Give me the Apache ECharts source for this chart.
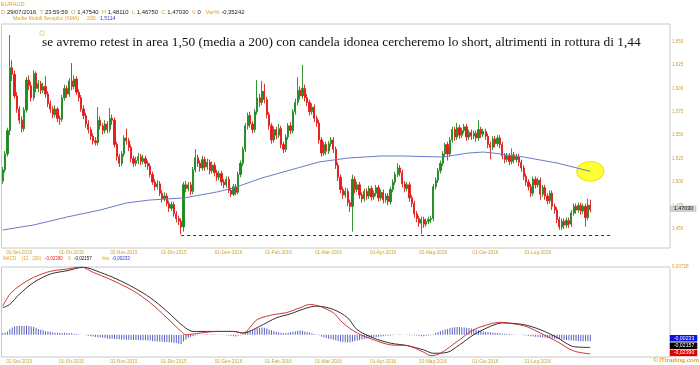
<!DOCTYPE html>
<html><head><meta charset="utf-8">
<script src="https://cdn.jsdelivr.net/npm/echarts@6/dist/echarts.min.js"></script>
<style>html,body{margin:0;padding:0;background:#fff}#c{width:700px;height:365px}</style>
</head><body><div id="c"></div>
<script>
// ---- data (EURAUD daily, 19-Aug-2015 .. 29-Jul-2016) ----
const padBars = 33;
const opens = [
1.501,1.513,1.530,1.555,1.622,1.615,1.592,1.578,1.566,1.557,
1.577,1.609,1.603,1.590,1.616,1.600,1.605,1.598,1.602,1.594,
1.584,1.578,1.572,1.578,1.568,1.567,1.590,1.600,1.594,1.608,
1.602,1.610,1.596,1.590,1.578,1.571,1.562,1.556,1.549,1.544,
1.542,1.566,1.560,1.555,1.562,1.556,1.568,1.566,1.540,1.527,
1.520,1.530,1.547,1.544,1.537,1.525,1.520,1.523,1.527,1.522,
1.525,1.520,1.517,1.508,1.500,1.495,1.498,1.488,1.482,1.485,
1.477,1.472,1.476,1.466,1.461,1.458,1.452,1.497,1.493,1.497,
1.490,1.513,1.526,1.520,1.515,1.524,1.516,1.521,1.512,1.518,
1.510,1.505,1.509,1.500,1.497,1.503,1.491,1.487,1.495,1.489,
1.508,1.520,1.535,1.560,1.571,1.562,1.556,1.575,1.590,1.585,
1.597,1.588,1.572,1.560,1.545,1.556,1.550,1.557,1.540,1.535,
1.548,1.560,1.555,1.575,1.585,1.598,1.592,1.600,1.590,1.585,
1.575,1.580,1.568,1.563,1.545,1.531,1.540,1.533,1.541,1.545,
1.535,1.518,1.505,1.492,1.486,1.490,1.478,1.474,1.503,1.492,
1.497,1.486,1.482,1.490,1.485,1.493,1.484,1.488,1.494,1.483,
1.489,1.481,1.485,1.479,1.492,1.500,1.508,1.515,1.510,1.498,
1.493,1.497,1.483,1.477,1.466,1.461,1.456,1.460,1.455,1.458,
1.460,1.461,1.495,1.502,1.512,1.520,1.530,1.540,1.530,1.545,
1.556,1.548,1.558,1.550,1.555,1.559,1.548,1.553,1.549,1.552,
1.547,1.556,1.551,1.554,1.549,1.540,1.537,1.546,1.541,1.547,
1.540,1.528,1.524,1.528,1.522,1.529,1.524,1.527,1.521,1.515,
1.506,1.500,1.495,1.488,1.503,1.497,1.502,1.487,1.494,1.485,
1.480,1.488,1.474,1.470,1.460,1.452,1.458,1.454,1.459,1.455,
1.467,1.474,1.470,1.475,1.469,1.474,1.462,1.4754];
const closes = [
1.513,1.530,1.555,1.622,1.615,1.592,1.578,1.566,1.557,1.577,
1.609,1.603,1.590,1.616,1.600,1.605,1.598,1.602,1.594,1.584,
1.578,1.572,1.578,1.568,1.567,1.590,1.600,1.594,1.608,1.602,
1.610,1.596,1.590,1.578,1.571,1.562,1.556,1.549,1.544,1.542,
1.566,1.560,1.555,1.562,1.556,1.568,1.566,1.540,1.527,1.520,
1.530,1.547,1.544,1.537,1.525,1.520,1.523,1.527,1.522,1.525,
1.520,1.517,1.508,1.500,1.495,1.498,1.488,1.482,1.485,1.477,
1.472,1.476,1.466,1.461,1.458,1.452,1.497,1.493,1.497,1.490,
1.513,1.526,1.520,1.515,1.524,1.516,1.521,1.512,1.518,1.510,
1.505,1.509,1.500,1.497,1.503,1.491,1.487,1.495,1.489,1.508,
1.520,1.535,1.560,1.571,1.562,1.556,1.575,1.590,1.585,1.597,
1.588,1.572,1.560,1.545,1.556,1.550,1.557,1.540,1.535,1.548,
1.560,1.555,1.575,1.585,1.598,1.592,1.600,1.590,1.585,1.575,
1.580,1.568,1.563,1.545,1.531,1.540,1.533,1.541,1.545,1.535,
1.518,1.505,1.492,1.486,1.490,1.478,1.474,1.503,1.492,1.497,
1.486,1.482,1.490,1.485,1.493,1.484,1.488,1.494,1.483,1.489,
1.481,1.485,1.479,1.492,1.500,1.508,1.515,1.510,1.498,1.493,
1.497,1.483,1.477,1.466,1.461,1.456,1.460,1.455,1.458,1.460,
1.461,1.495,1.502,1.512,1.520,1.530,1.540,1.530,1.545,1.556,
1.548,1.558,1.550,1.555,1.559,1.548,1.553,1.549,1.552,1.547,
1.556,1.551,1.554,1.549,1.540,1.537,1.546,1.541,1.547,1.540,
1.528,1.524,1.528,1.522,1.529,1.524,1.527,1.521,1.515,1.506,
1.500,1.495,1.488,1.503,1.497,1.502,1.487,1.494,1.485,1.480,
1.488,1.474,1.470,1.460,1.452,1.458,1.454,1.459,1.455,1.467,
1.474,1.470,1.475,1.469,1.474,1.462,1.4754,1.4703];
const lows = [
1.498,1.510,1.527,1.550,1.608,1.589,1.574,1.562,1.553,1.554,
1.574,1.598,1.586,1.587,1.596,1.596,1.594,1.595,1.590,1.580,
1.574,1.568,1.569,1.564,1.561,1.564,1.587,1.590,1.591,1.598,
1.599,1.593,1.586,1.575,1.567,1.558,1.552,1.545,1.540,1.539,
1.539,1.556,1.551,1.552,1.552,1.553,1.561,1.537,1.523,1.516,
1.517,1.527,1.540,1.533,1.521,1.516,1.517,1.519,1.518,1.519,
1.516,1.513,1.505,1.497,1.491,1.492,1.485,1.478,1.479,1.474,
1.468,1.469,1.463,1.457,1.454,1.444,1.447,1.489,1.490,1.486,
1.487,1.510,1.516,1.511,1.512,1.512,1.513,1.508,1.509,1.506,
1.501,1.502,1.496,1.493,1.494,1.488,1.484,1.485,1.486,1.487,
1.505,1.517,1.532,1.556,1.558,1.552,1.553,1.572,1.580,1.582,
1.584,1.568,1.556,1.541,1.542,1.546,1.547,1.536,1.531,1.532,
1.545,1.551,1.552,1.572,1.582,1.588,1.589,1.586,1.581,1.571,
1.572,1.564,1.559,1.541,1.527,1.528,1.529,1.530,1.538,1.531,
1.514,1.501,1.488,1.482,1.483,1.474,1.468,1.447,1.488,1.489,
1.482,1.478,1.479,1.481,1.482,1.480,1.481,1.485,1.479,1.480,
1.477,1.478,1.475,1.476,1.489,1.497,1.505,1.506,1.494,1.489,
1.490,1.479,1.473,1.462,1.457,1.452,1.4445,1.451,1.452,1.455,
1.456,1.458,1.492,1.499,1.509,1.517,1.527,1.523,1.527,1.542,
1.544,1.545,1.546,1.547,1.552,1.544,1.545,1.545,1.546,1.543,
1.544,1.547,1.548,1.545,1.536,1.524,1.534,1.537,1.538,1.536,
1.524,1.520,1.521,1.518,1.519,1.520,1.521,1.517,1.511,1.502,
1.496,1.491,1.484,1.485,1.493,1.494,1.481,1.484,1.481,1.476,
1.477,1.470,1.466,1.456,1.449,1.449,1.450,1.451,1.451,1.452,
1.464,1.466,1.467,1.465,1.466,1.4524,1.459,1.4675];
const highs = [
1.516,1.533,1.558,1.657,1.630,1.619,1.596,1.581,1.570,1.580,
1.612,1.614,1.607,1.619,1.618,1.609,1.608,1.606,1.613,1.597,
1.587,1.581,1.582,1.580,1.571,1.593,1.604,1.603,1.611,1.627,
1.614,1.613,1.599,1.593,1.582,1.574,1.566,1.559,1.552,1.548,
1.580,1.570,1.563,1.566,1.565,1.579,1.572,1.569,1.543,1.530,
1.533,1.550,1.557,1.547,1.540,1.528,1.527,1.531,1.530,1.529,
1.528,1.523,1.520,1.511,1.503,1.502,1.501,1.491,1.489,1.488,
1.480,1.479,1.479,1.469,1.464,1.461,1.500,1.501,1.500,1.500,
1.516,1.535,1.529,1.523,1.528,1.527,1.525,1.524,1.522,1.521,
1.513,1.512,1.512,1.503,1.506,1.506,1.494,1.498,1.498,1.511,
1.523,1.538,1.563,1.574,1.575,1.565,1.578,1.609,1.594,1.608,
1.605,1.591,1.575,1.563,1.559,1.559,1.562,1.560,1.543,1.551,
1.563,1.564,1.578,1.589,1.612,1.602,1.625,1.604,1.594,1.588,
1.584,1.583,1.571,1.566,1.548,1.543,1.543,1.544,1.548,1.548,
1.538,1.521,1.508,1.495,1.494,1.493,1.481,1.508,1.506,1.500,
1.500,1.489,1.493,1.493,1.496,1.496,1.491,1.497,1.497,1.492,
1.492,1.488,1.488,1.495,1.503,1.511,1.520,1.518,1.513,1.501,
1.500,1.500,1.486,1.480,1.469,1.464,1.463,1.463,1.461,1.463,
1.464,1.498,1.505,1.515,1.523,1.533,1.542,1.543,1.548,1.559,
1.559,1.563,1.561,1.558,1.562,1.562,1.556,1.556,1.555,1.555,
1.566,1.559,1.557,1.557,1.552,1.543,1.549,1.549,1.550,1.550,
1.543,1.531,1.531,1.531,1.536,1.532,1.530,1.530,1.524,1.518,
1.509,1.503,1.498,1.506,1.506,1.505,1.505,1.497,1.497,1.488,
1.491,1.491,1.477,1.473,1.463,1.461,1.461,1.462,1.462,1.470,
1.477,1.477,1.478,1.478,1.477,1.477,1.482,1.4811];
// SMA 200 read at sample bars
const maIdx = [0,13,27,41,52,62,76,90,97,109,124,133,145,159,168,185,196,202,206,219,233,247];
const maVal = [1.4487,1.4541,1.4626,1.4701,1.4776,1.4808,1.4829,1.4893,1.4936,1.5043,1.5150,1.5214,1.5256,1.5278,1.5278,1.5267,1.5310,1.5320,1.5310,1.5267,1.5203,1.5114];
// MACD (12,200) line, signal 9 - read at sample bars
const macdIdx = [0,3,7,13,20,27,33,38,45,55,62,69,75,77,83,90,97,101,107,114,119,125,129,133,139,143,149,156,163,170,177,180,184,191,198,205,209,215,220,226,233,240,247];
const macdVal = [-0.00676,-0.00251,0.00050,0.00354,0.00572,0.00655,0.00728,0.00536,0.00293,-0.00132,-0.00552,-0.01096,-0.01583,-0.01702,-0.01641,-0.01583,-0.01583,-0.01641,-0.01158,-0.00977,-0.00915,-0.00734,-0.00614,-0.00676,-0.00915,-0.01278,-0.01641,-0.01884,-0.02065,-0.02090,-0.02330,-0.02453,-0.02366,-0.01945,-0.01521,-0.01314,-0.01256,-0.01314,-0.01401,-0.01641,-0.01945,-0.02283,-0.02390];
const sigIdx = [0,3,7,13,20,27,34,41,48,55,62,69,76,80,86,97,101,108,115,121,128,132,139,145,149,156,163,170,177,181,187,192,198,205,210,219,226,233,240,247];
const sigVal = [-0.00734,-0.00614,-0.00251,0.00173,0.00474,0.00594,0.00717,0.00536,0.00293,-0.00008,-0.00371,-0.00857,-0.01401,-0.01583,-0.01583,-0.01583,-0.01641,-0.01401,-0.01096,-0.00951,-0.00734,-0.00676,-0.00795,-0.01096,-0.01521,-0.01822,-0.02003,-0.02090,-0.02246,-0.02366,-0.02330,-0.02065,-0.01702,-0.01401,-0.01278,-0.01339,-0.01521,-0.01800,-0.02127,-0.02157];
const hist = [
0.0006,0.0008,0.0012,0.0020,0.0026,0.0030,0.0031,0.0032,0.0031,0.0031,
0.0032,0.0031,0.0030,0.0028,0.0024,0.0021,0.0018,0.0016,0.0013,0.0012,
0.0011,0.0008,0.0007,0.0007,0.0006,0.0006,0.0007,0.0006,0.0005,0.0005,
0.0004,0.0003,0.0002,0.0001,0.0000,-0.0002,-0.0004,-0.0005,-0.0006,-0.0008,
-0.0009,-0.0010,-0.0011,-0.0012,-0.0013,-0.0014,-0.0014,-0.0015,-0.0016,-0.0016,
-0.0017,-0.0017,-0.0018,-0.0018,-0.0018,-0.0019,-0.0019,-0.0019,-0.0020,-0.0020,
-0.0020,-0.0021,-0.0021,-0.0022,-0.0023,-0.0024,-0.0024,-0.0025,-0.0026,-0.0026,
-0.0027,-0.0028,-0.0029,-0.0030,-0.0032,-0.0034,-0.0024,-0.0018,-0.0012,-0.0008,
-0.0005,-0.0003,-0.0002,-0.0001,0.0001,0.0002,0.0002,0.0001,0.0002,0.0001,
0.0000,0.0001,-0.0001,-0.0001,-0.0002,-0.0003,-0.0004,-0.0005,-0.0006,-0.0004,
-0.0002,0.0002,0.0008,0.0012,0.0015,0.0017,0.0020,0.0023,0.0025,0.0026,
0.0025,0.0022,0.0019,0.0016,0.0013,0.0011,0.0009,0.0007,0.0006,0.0006,
0.0007,0.0009,0.0011,0.0013,0.0014,0.0015,0.0014,0.0012,0.0010,0.0008,
0.0005,0.0003,0.0001,-0.0002,-0.0006,-0.0009,-0.0012,-0.0014,-0.0016,-0.0018,
-0.0020,-0.0022,-0.0024,-0.0026,-0.0027,-0.0028,-0.0027,-0.0025,-0.0023,-0.0021,
-0.0019,-0.0017,-0.0015,-0.0013,-0.0011,-0.0010,-0.0009,-0.0008,-0.0007,-0.0006,
-0.0005,-0.0004,-0.0004,-0.0003,-0.0002,-0.0001,0.0001,0.0002,0.0001,0.0000,
-0.0001,-0.0002,-0.0002,-0.0003,-0.0003,-0.0004,-0.0005,-0.0005,-0.0004,-0.0003,
-0.0002,0.0002,0.0006,0.0010,0.0013,0.0016,0.0019,0.0021,0.0024,0.0026,
0.0027,0.0028,0.0028,0.0027,0.0026,0.0025,0.0024,0.0022,0.0020,0.0018,
0.0016,0.0014,0.0012,0.0011,0.0010,0.0009,0.0008,0.0007,0.0006,0.0005,
0.0004,0.0004,0.0003,0.0003,0.0002,0.0001,0.0001,0.0000,-0.0001,-0.0002,
-0.0003,-0.0004,-0.0005,-0.0006,-0.0007,-0.0008,-0.0009,-0.0010,-0.0011,-0.0012,
-0.0012,-0.0013,-0.0014,-0.0015,-0.0016,-0.0017,-0.0018,-0.0019,-0.0020,-0.0021,
-0.0021,-0.0022,-0.0022,-0.0023,-0.0023,-0.0023,-0.0023,-0.00233];
const supportLevel = 1.4436, supportFrom = 75, supportTo = 256;
const lastPrice = 1.47030, lastMA = 1.5114;
const priceTicks = [1.45,1.475,1.5,1.525,1.55,1.575,1.6,1.625,1.65];
const macdTop = 0.00728;
const tickLabels = ['01-Set-2015','01-Ott-2015','02-Nov-2015','01-Dic-2015','01-Gen-2016','01-Feb-2016','01-Mar-2016','01-Apr-2016','02-Mag-2016','01-Giu-2016','01-Lug-2016'];
const annotation = 'se avremo retest in area 1,50 (media a 200) con candela idonea cercheremo lo short, altrimenti in rottura di 1,44';

// ---- build ----
const MESI=['Gen','Feb','Mar','Apr','Mag','Giu','Lug','Ago','Set','Ott','Nov','Dic'];
const N = closes.length + padBars;
const cats = [];
{ const d = new Date(Date.UTC(2015,7,19));
  while (cats.length < N) { const wd = d.getUTCDay();
    if (wd !== 0 && wd !== 6) cats.push(String(d.getUTCDate()).padStart(2,'0')+'-'+MESI[d.getUTCMonth()]+'-'+d.getUTCFullYear());
    d.setUTCDate(d.getUTCDate()+1); } }
const candles = closes.map((c,i)=>[opens[i], c, lows[i], highs[i]]);
function sparse(idx,val){ const a=new Array(N).fill(null); idx.forEach((k,j)=>a[k]=val[j]); return a; }
const lastI = closes.length - 1;
const GOLD = '#d0a030', SANS = 'Liberation Sans, Arial, sans-serif';
const fmtC = (v,d)=>v.toFixed(d).replace('.',',');

const xAx = (gi)=>({type:'category', gridIndex:gi, data:cats, boundaryGap:true,
  axisLine:{show:false}, axisTick:{show:false}, splitLine:{show:false},
  axisLabel:{interval:(i,v)=>tickLabels.includes(v), color:GOLD, fontSize:4.7, fontFamily:SANS, margin:2.5, padding:[0,10,0,0]}});

const chart = echarts.init(document.getElementById('c'), null, {renderer:'canvas'});
chart.setOption({
  animation:false,
  backgroundColor:'#fff',
  grid:[
    {left:1.5, right:30, top:24, height:224, show:true, borderColor:'#c8c8c8', borderWidth:1},
    {left:1.5, right:30, top:267, height:90, show:true, borderColor:'#c8c8c8', borderWidth:1}
  ],
  xAxis:[xAx(0), xAx(1)],
  yAxis:[
    {type:'value', gridIndex:0, position:'right', min:1.4295, max:1.6688, scale:true,
     axisLine:{show:false}, axisTick:{show:false}, splitLine:{show:false},
     axisLabel:{customValues:priceTicks, formatter:v=>fmtC(v,3), color:GOLD, fontSize:4.5, fontFamily:SANS, margin:2}},
    {type:'value', gridIndex:1, position:'right', min:-0.025, max:macdTop,
     axisLine:{show:false}, axisTick:{show:false}, splitLine:{show:false},
     axisLabel:{customValues:[macdTop], formatter:v=>fmtC(v,5), color:GOLD, fontSize:4.6, fontFamily:SANS, margin:2}},
    {type:'value', gridIndex:1, min:-0.00798, max:0.0243, show:false}
  ],
  graphic:[
    {type:'text', left:1, top:1, style:{text:'EURAUD', fill:'#e0a030', font:'5.6px '+SANS}},
    {type:'text', left:1, top:9.5, style:{
      text:'{o|D} {v|29/07/2016}  {o|T} {v|23:59:59}  {o|O} {v|1,47540}  {o|H} {v|1,48110}  {o|L} {v|1,46750}  {o|C} {v|1,47030}  {o|V} {v|0}   {o|Var%} {v|-0,35242}',
      font:'5.9px '+SANS, rich:{o:{fill:'#e0a030', font:'5.9px '+SANS}, v:{fill:'#222', font:'5.9px '+SANS}}}},
    {type:'text', left:13, top:16.5, style:{text:'Medie Mobili Semplici (SMA)', fill:'#d8a030', font:'5.2px '+SANS}},
    {type:'text', left:87, top:16.5, style:{text:'200', fill:'#d8a030', font:'5.2px '+SANS}},
    {type:'text', left:100, top:16.5, style:{text:fmtC(lastMA,4), fill:'#3344cc', font:'5.2px '+SANS}},
    {type:'rect', shape:{x:40, y:31, width:4, height:4}, style:{fill:'none', stroke:'#e0d890', lineWidth:1}},
    {type:'text', left:42, top:35.5, style:{text:annotation, fill:'#111', font:'13.4px Liberation Serif, Times New Roman, serif'}},
    {type:'text', left:3, top:256.5, style:{text:'MACD', fill:'#e0a030', font:'4.5px '+SANS}},
    {type:'text', left:22, top:256.5, style:{text:'(12 , 200)', fill:'#e0a030', font:'4.5px '+SANS}},
    {type:'text', left:45, top:256.5, style:{text:fmtC(macdVal[macdVal.length-1],5), fill:'#dd2020', font:'4.5px '+SANS}},
    {type:'text', left:68, top:256.5, style:{text:'9', fill:'#e0a030', font:'4.5px '+SANS}},
    {type:'text', left:74, top:256.5, style:{text:fmtC(sigVal[sigVal.length-1],5), fill:'#111', font:'4.5px '+SANS}},
    {type:'text', left:102, top:256.5, style:{text:'hist', fill:'#e0a030', font:'4.5px '+SANS}},
    {type:'text', left:112, top:256.5, style:{text:fmtC(hist[hist.length-1],5), fill:'#2233cc', font:'4.5px '+SANS}},
    {type:'text', right:1, top:357.5, style:{text:'© ITtrading.com', fill:'#e8a020', font:'bold 6px '+SANS}}
  ],
  series:[
    {type:'candlestick', xAxisIndex:0, yAxisIndex:0, data:candles, barWidth:1.7, z:3,
     itemStyle:{color:'#1e8a1e', color0:'#e21a1a', borderColor:'#1e8a1e', borderColor0:'#e21a1a', borderWidth:0.9},
     markLine:{symbol:'none', silent:true, label:{show:false},
       lineStyle:{color:'#333', type:[3,3], width:1},
       data:[[{coord:[supportFrom, supportLevel]},{coord:[supportTo, supportLevel]}]]},
     markPoint:{symbol:'rect', symbolSize:0, silent:true,
       data:[{coord:[N-1, lastPrice], label:{show:true, position:'right', distance:1, offset:[0,-1],
         formatter:fmtC(lastPrice,5), color:'#111', backgroundColor:'#cfcfcf', padding:[1,3,0.5,4], fontSize:5.4, fontFamily:SANS}}]}
    },
    {type:'scatter', xAxisIndex:0, yAxisIndex:0, data:[[lastI, lastMA]], symbol:'circle', symbolSize:[27,20], z:1,
     itemStyle:{color:'#ffff00', borderColor:'#e6dc00', borderWidth:1}},
    {type:'line', xAxisIndex:0, yAxisIndex:0, data:sparse(maIdx,maVal), connectNulls:true, showSymbol:false, z:4,
     lineStyle:{color:'#6a7cc8', width:1}},
    {type:'bar', xAxisIndex:1, yAxisIndex:2, data:hist, barWidth:1, z:2,
     itemStyle:{color:'#5a60c0'},
     markPoint:{symbol:'rect', symbolSize:0, silent:true,
       data:[{coord:[N-1, hist[hist.length-1]], label:{show:true, position:'right', distance:1, offset:[0,-3],
         formatter:fmtC(hist[hist.length-1],5), color:'#fff', backgroundColor:'#1010e0', padding:[1,3,0.5,4], fontSize:5.2, fontFamily:SANS}}]}},
    {type:'line', xAxisIndex:1, yAxisIndex:1, data:sparse(sigIdx,sigVal), connectNulls:true, showSymbol:false, smooth:0.3, z:3,
     lineStyle:{color:'#1a1a1a', width:0.9},
     markPoint:{symbol:'rect', symbolSize:0, silent:true,
       data:[{coord:[N-1, sigVal[sigVal.length-1]], label:{show:true, position:'right', distance:1, offset:[0,-1.7],
         formatter:fmtC(sigVal[sigVal.length-1],5), color:'#fff', backgroundColor:'#000', padding:[1,3,0.5,4], fontSize:5.2, fontFamily:SANS}}]}},
    {type:'line', xAxisIndex:1, yAxisIndex:1, data:sparse(macdIdx,macdVal), connectNulls:true, showSymbol:false, smooth:0.3, z:4,
     lineStyle:{color:'#c82020', width:0.9},
     markPoint:{symbol:'rect', symbolSize:0, silent:true,
       data:[{coord:[N-1, macdVal[macdVal.length-1]], label:{show:true, position:'right', distance:1, offset:[0,-1],
         formatter:fmtC(macdVal[macdVal.length-1],5), color:'#fff', backgroundColor:'#e00000', padding:[1,3,0.5,4], fontSize:5.2, fontFamily:SANS}}]}}
  ]
});
</script></body></html>
